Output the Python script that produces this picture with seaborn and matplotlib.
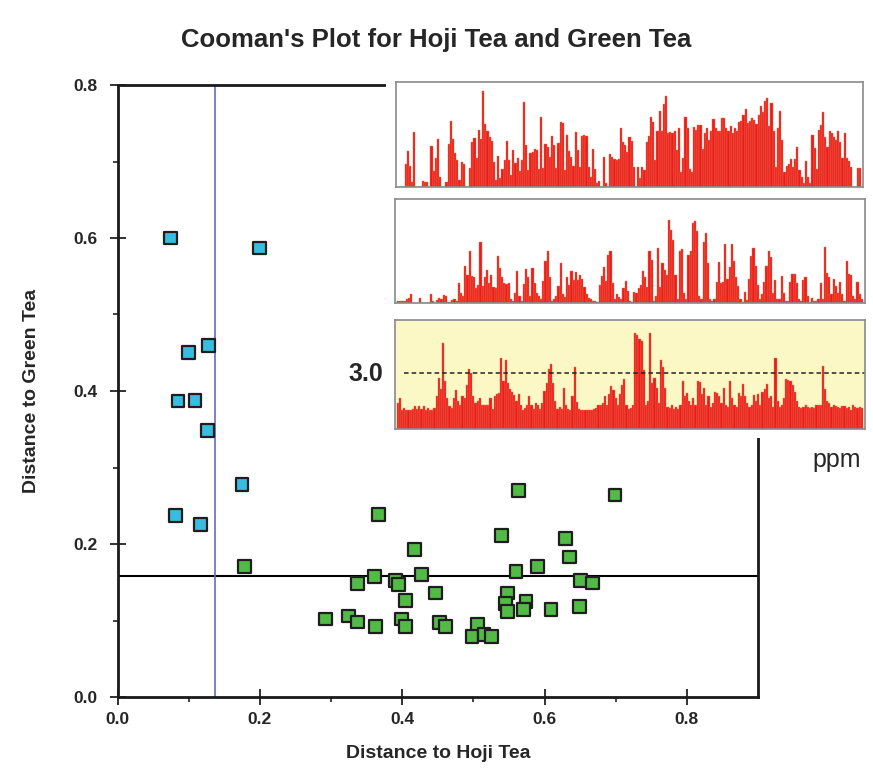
import numpy as np
import pandas as pd
import matplotlib
matplotlib.use("Agg")
import matplotlib.pyplot as plt
import seaborn as sns

# ---------------- data ----------------
hoji_x = [0.074, 0.199, 0.100, 0.128, 0.085, 0.109, 0.126, 0.175, 0.081, 0.117]
hoji_y = [0.600, 0.587, 0.450, 0.459, 0.387, 0.388, 0.348, 0.278, 0.237, 0.226]

green_x = [0.179, 0.5635, 0.367, 0.540, 0.417, 0.361, 0.427, 0.560, 0.337, 0.391,
           0.395, 0.447, 0.405, 0.548, 0.545, 0.548, 0.574, 0.570, 0.292, 0.325,
           0.337, 0.363, 0.399, 0.405, 0.453, 0.461, 0.506, 0.498, 0.515, 0.526,
           0.699, 0.630, 0.635, 0.590, 0.651, 0.667, 0.609, 0.649]
green_y = [0.171, 0.270, 0.239, 0.211, 0.193, 0.158, 0.160, 0.164, 0.148, 0.152,
           0.147, 0.136, 0.126, 0.136, 0.122, 0.112, 0.125, 0.114, 0.102, 0.106,
           0.098, 0.092, 0.102, 0.092, 0.097, 0.092, 0.095, 0.079, 0.082, 0.079,
           0.264, 0.207, 0.183, 0.171, 0.152, 0.149, 0.114, 0.118]

classes = ["Hoji Tea", "Green Tea"]
green_limit = 0.158   # critical distance to Green Tea
hoji_limit = 0.137    # critical distance to Hoji Tea
xticks = [0.0, 0.2, 0.4, 0.6, 0.8]
yticks = [0.0, 0.2, 0.4, 0.6, 0.8]

spec_hoji = [0, 0, 0, 22, 34, 20, 5, 52, 0, 0, 0, 6, 5, 5, 0, 39, 15, 28, 46, 10, 0, 0,
             5, 41, 63, 46, 32, 26, 7, 24, 22, 0, 0, 18, 43, 47, 28, 54, 46, 91, 60, 53,
             48, 44, 24, 7, 30, 9, 17, 26, 44, 26, 11, 35, 23, 28, 15, 26, 81, 40, 16, 32,
             33, 36, 35, 17, 67, 18, 41, 38, 29, 49, 40, 18, 42, 62, 61, 16, 50, 34, 29, 20,
             52, 35, 19, 49, 50, 49, 19, 10, 36, 17, 4, 6, 0, 29, 4, 0, 31, 29, 27, 26,
             27, 56, 43, 40, 33, 48, 44, 19, 0, 19, 9, 19, 16, 43, 49, 67, 62, 26, 53, 72,
             53, 79, 87, 51, 52, 51, 53, 35, 56, 14, 28, 67, 56, 17, 14, 57, 54, 59, 59, 36,
             51, 56, 45, 53, 65, 56, 53, 53, 66, 66, 56, 53, 58, 51, 56, 53, 62, 63, 69, 74,
             61, 63, 66, 64, 60, 69, 77, 71, 82, 85, 58, 80, 53, 19, 56, 72, 45, 14, 20, 22,
             27, 19, 27, 38, 16, 10, 4, 25, 10, 4, 50, 37, 17, 54, 59, 71, 48, 38, 53, 51,
             48, 45, 53, 43, 28, 51, 28, 25, 19, 0, 0, 18, 18]
spec_green = [2, 2, 2, 2, 4, 5, 9, 0, 0, 0, 5, 0, 0, 0, 0, 9, 2, 0, 3, 5, 4, 8, 7, 1, 1,
              3, 4, 2, 19, 10, 7, 36, 27, 50, 26, 25, 14, 17, 59, 16, 25, 32, 19, 27, 15,
              14, 45, 34, 25, 19, 18, 19, 4, 2, 10, 31, 7, 2, 18, 33, 25, 7, 34, 19, 10, 7,
              4, 21, 40, 50, 25, 2, 4, 7, 16, 38, 9, 6, 25, 17, 31, 22, 30, 22, 27, 23, 15,
              9, 5, 4, 2, 2, 1, 17, 26, 35, 21, 46, 50, 19, 4, 9,
              6, 4, 14, 21, 12, 2, 1, 11, 10, 14, 17, 31, 25, 15, 50, 41, 2, 7, 53, 15, 38,
              32, 27, 80, 70, 61, 27, 4, 50, 52, 10, 4, 46, 50, 77, 79, 69, 7, 4, 59, 67,
              38, 4, 2, 4, 20, 39, 19, 20, 57, 23, 35, 57, 40, 25, 16, 4, 1, 11, 3, 23, 45,
              53, 36, 17, 4, 9, 20, 36, 50, 44, 10, 22, 4, 4, 26, 10, 2, 2, 20, 28, 28, 19,
              4, 2, 22, 25, 7, 1, 5, 2, 2, 4, 19, 4, 54, 29, 25, 9, 23, 16, 10, 20, 9, 2,
              40, 28, 27, 7, 4, 20, 9, 4]
spec_ratio = [24, 28, 17, 19, 17, 17, 17, 18, 21, 18, 21, 18, 21, 17, 19, 17, 17, 19, 30,
              47, 37, 79, 44, 28, 21, 19, 28, 36, 26, 22, 30, 28, 40, 55, 51, 30, 24, 26,
              28, 22, 22, 22, 22, 28, 18, 30, 32, 33, 65, 44, 63, 42, 37, 34, 31, 26, 32,
              22, 17, 19, 22, 30, 22, 18, 24, 22, 18, 24, 35, 42, 55, 60, 42, 26, 18, 20,
              18, 38, 22, 18, 17, 30, 57, 25, 18, 17, 17, 17, 17, 17, 17, 18, 19, 22, 22,
              24, 30, 22, 32, 39, 36, 28, 22, 32, 40, 46, 22, 18, 19, 22, 88, 86, 83, 81,
              54, 22, 26, 88, 42, 47, 38, 24, 63, 57, 38, 20, 19, 22, 18, 20, 18, 22, 44,
              30, 33, 26, 22, 28, 22, 44, 43, 32, 38, 22, 30, 20, 24, 34, 33, 30, 24, 38,
              22, 20, 44, 28, 22, 20, 33, 30, 41, 30, 24, 20, 22, 31, 26, 32, 22, 34, 37,
              41, 28, 30, 20, 65, 26, 20, 22, 28, 46, 45, 44, 40, 34, 26, 20, 19, 20, 22,
              20, 19, 20, 19, 22, 22, 22, 58, 37, 26, 24, 20, 22, 21, 20, 19, 21, 21, 19,
              20, 17, 22, 20, 19, 20, 19]
ratio_threshold = 51

# ---------------- figure ----------------
sns.set_style("white")
plt.rcParams["font.family"] = ["Liberation Sans", "DejaVu Sans"]

W, H = 873, 773
fig = plt.figure(figsize=(W / 100, H / 100), dpi=100)

def fx(px):
    return px / W

def fy(py):
    return 1 - py / H

ax = fig.add_axes([fx(117.5), fy(697), fx(758) - fx(117.5), fy(85) - fy(697)])
ax.set_zorder(0)

df = pd.DataFrame({
    "hoji": hoji_x + green_x,
    "green": hoji_y + green_y,
    "cls": [classes[0]] * len(hoji_x) + [classes[1]] * len(green_x),
})
sns.scatterplot(data=df, x="hoji", y="green", hue="cls",
                palette={classes[0]: "#38bde0", classes[1]: "#52bb45"},
                marker="s", s=85, edgecolor="#1e1e1e", linewidth=1.6,
                legend=False, ax=ax, zorder=3)

ax.axhline(green_limit, color="black", lw=1.5, zorder=2)
ax.axvline(hoji_limit, color="#6a6ac0", lw=1.2, zorder=2)

ax.set_xlim(0, 0.9)
ax.set_ylim(0, 0.8)
ax.set_xticks(xticks)
ax.set_yticks(yticks)
ax.set_xticks(np.arange(0.1, 0.9, 0.2), minor=True)
ax.set_yticks(np.arange(0.1, 0.8, 0.2), minor=True)
ax.set_xticklabels([f"{v:.1f}" for v in xticks], fontsize=12.5, fontweight="bold")
ax.set_yticklabels([f"{v:.1f}" for v in yticks], fontsize=12.5, fontweight="bold")
ax.tick_params(which="both", bottom=True, left=True, top=False, right=False)
ax.tick_params(which="major", direction="inout", length=11, width=1.3, color="#222222", pad=5)
ax.tick_params(axis="y", which="major", pad=9)
ax.tick_params(which="minor", direction="out", length=3.5, width=1.2, color="#222222")
for sp in ax.spines.values():
    sp.set_linewidth(2)
    sp.set_color("#1a1a1a")
    sp.set_visible(True)
ax.set_xlabel("Distance to Hoji Tea", fontsize=14, fontweight="bold", labelpad=13)
ax.set_ylabel("Distance to Green Tea", fontsize=14, fontweight="bold", labelpad=24)
ax.patch.set_alpha(0)

fig.text(0.5, fy(40), "Cooman's Plot for Hoji Tea and Green Tea",
         ha="center", va="center", fontsize=18.5, fontweight="bold")

# white cover for the inset area
cover = fig.add_axes([fx(386), fy(438), 1 - fx(386), fy(70) - fy(438)])
cover.set_facecolor("white")
cover.set_xticks([]); cover.set_yticks([])
for sp in cover.spines.values():
    sp.set_visible(False)
cover.set_zorder(1)

def spectrum(rect, vals, face):
    a = fig.add_axes(rect)
    a.set_zorder(2)
    xs = np.arange(len(vals))
    a.bar(xs, vals, width=1.0, color="#ec1c1c", edgecolor="#f07a50", linewidth=0.3)
    a.set_xlim(-1.5, len(vals) + 0.5)
    a.set_ylim(0, 100)
    a.set_facecolor(face)
    a.set_xticks([]); a.set_yticks([])
    for sp in a.spines.values():
        sp.set_color("#8a8a8a")
        sp.set_linewidth(1.2)
    return a

spectrum([fx(396), fy(187), fx(863) - fx(396), fy(82) - fy(187)], spec_hoji, "white")
spectrum([fx(395), fy(303), fx(865) - fx(395), fy(199) - fy(303)], spec_green, "white")
a3 = spectrum([fx(394.5), fy(429), fx(865) - fx(394.5), fy(320) - fy(429)], spec_ratio, "#fbf8c6")
a3.axhline(ratio_threshold, xmin=0.02, xmax=1.0, color="#222222", lw=1.1, ls=(0, (3, 2)))

fig.text(fx(366), fy(374), "3.0", ha="center", va="center", fontsize=18, fontweight="bold")
fig.text(fx(837), fy(460), "ppm", ha="center", va="center", fontsize=18)

fig.savefig("out.png", dpi=100, facecolor="white")
